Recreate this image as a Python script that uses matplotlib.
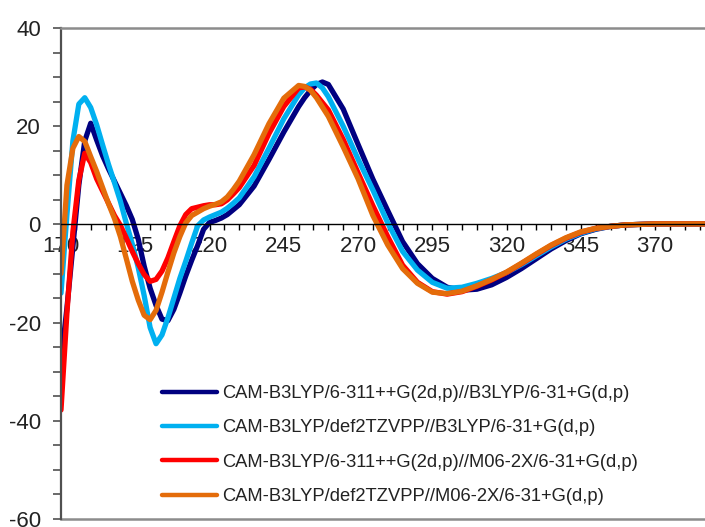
import matplotlib
matplotlib.use("Agg")
import matplotlib.pyplot as plt
from matplotlib.ticker import FixedLocator, MultipleLocator

plt.rcParams["font.family"] = ["Liberation Sans", "DejaVu Sans"]
plt.rcParams["axes.unicode_minus"] = False

wavelength = [170, 172, 174, 176, 178, 180, 182, 184, 186, 188, 190, 192, 194, 196, 198,
              200, 202, 204, 206, 208, 210, 212, 214, 216, 218, 220, 222, 224, 226, 228,
              230, 235, 240, 245, 250, 252, 254, 256, 258, 260, 265, 270, 275, 280, 285,
              290, 295, 300, 305, 310, 315, 320, 325, 330, 335, 340, 345, 350, 355, 360,
              370, 380, 387]

b3lyp_311 = [-28, -17, -4.5, 8, 17, 20.6, 17.2, 14, 11.3, 8.8, 6.3, 3.8, 1.0, -3, -8.5,
             -13, -16.5, -19.3, -19.6, -17.3, -14, -10.5, -7.3, -4.3, -1, 0.4, 0.8, 1.3, 2, 3,
             4, 7.8, 13.2, 18.8, 24, 25.8, 27.3, 28.5, 29, 28.5, 23.5, 16.3, 9.2, 2.8, -3.5,
             -8, -11, -12.8, -13.4, -13.2, -12.3, -10.8, -9, -7, -5, -3.3, -1.9, -1, -0.4, -0.1,
             0.1, 0.1, 0.1]

b3lyp_def2 = [-14, 2, 17, 24.5, 25.8, 23.8, 20.3, 16.2, 12.2, 8.5, 4.7, 0.2, -4, -8.8, -14.5,
              -21, -24.3, -22.5, -19, -15, -11, -7.5, -3.8, -0.3, 0.9, 1.5, 2, 2.5, 3.3, 4.3,
              5.4, 9.7, 15.5, 21.5, 26.4, 27.8, 28.6, 28.8, 27.8, 26, 20, 13.3, 7, 0.3, -5.5,
              -9.3, -11.8, -13, -12.8, -12, -11, -9.8, -8.2, -6.4, -4.6, -3, -1.8, -0.9, -0.4, -0.1,
              0.1, 0.1, 0.1]

m062x_311 = [-37.8, -18, -1.5, 9, 14.5, 12.6, 9.3, 6.8, 4.3, 1.8, -0.2, -2.8, -5.5, -8, -10.2,
             -11.6, -11.2, -9.5, -6.8, -3.5, -0.3, 2, 3.2, 3.5, 3.8, 4, 4, 4.2, 5, 6.2,
             7.5, 12, 18.5, 24, 27.8, 28, 27.5, 26.3, 24.8, 23.3, 17.3, 10.5, 3.8, -2.5, -8.3,
             -11.8, -13.7, -14.2, -13.7, -12.6, -11.3, -9.8, -8, -6.1, -4.3, -2.8, -1.6, -0.8, -0.4, -0.1,
             0.1, 0.1, 0.1]

m062x_def2 = [-10, 8, 15.5, 17.9, 16.9, 13.8, 10.8, 7.5, 4.2, 1.2, -2.5, -7, -11.6, -15.4, -18.5,
              -19.4, -17.5, -13.8, -9.7, -5.8, -2.5, 0.3, 1.8, 2.5, 3.2, 3.7, 4.1, 4.6, 5.6, 7.1,
              8.8, 14.2, 20.5, 25.7, 28.3, 28.1, 27.3, 25.8, 23.9, 22, 15.8, 9.3, 1.8, -4.2, -9,
              -12, -13.8, -14.1, -13.6, -12.5, -11.2, -9.7, -7.9, -6, -4.2, -2.7, -1.5, -0.8, -0.4, -0.1,
              0.1, 0.1, 0.1]

labels = ["CAM-B3LYP/6-311++G(2d,p)//B3LYP/6-31+G(d,p)",
          "CAM-B3LYP/def2TZVPP//B3LYP/6-31+G(d,p)",
          "CAM-B3LYP/6-311++G(2d,p)//M06-2X/6-31+G(d,p)",
          "CAM-B3LYP/def2TZVPP//M06-2X/6-31+G(d,p)"]
colors = ["#000080", "#00B0F0", "#FF0000", "#E46C0A"]

fig = plt.figure(figsize=(7.05, 5.27), dpi=100)
ax = fig.add_axes([61 / 705, 8 / 527, 644 / 705, 491 / 527])

series = [b3lyp_311, b3lyp_def2, m062x_311, m062x_def2]
lines = []
for ys, c, lab in zip(series, colors, labels):
    ln, = ax.plot(wavelength, ys, color=c, lw=3.8, label=lab,
                  solid_joinstyle="round", solid_capstyle="round")
    lines.append(ln)

ax.set_xlim(170, 386.8)
ax.set_ylim(-60, 40)

# x axis sits on y = 0
ax.spines["bottom"].set_position(("data", 0))
ax.spines["bottom"].set_color("black")
ax.spines["bottom"].set_linewidth(1.0)
ax.spines["right"].set_visible(False)
ax.spines["top"].set_color("#8c8c8c")
ax.spines["top"].set_linewidth(1.8)
ax.spines["left"].set_color("#505050")
ax.spines["left"].set_linewidth(1.6)
ax.axhline(-60, color="#8c8c8c", lw=1.8, clip_on=False, zorder=0)

ax.xaxis.set_major_locator(FixedLocator(list(range(170, 371, 25))))
ax.xaxis.set_minor_locator(MultipleLocator(5))
ax.yaxis.set_major_locator(MultipleLocator(20))
ax.yaxis.set_minor_locator(MultipleLocator(5))
ax.tick_params(axis="x", which="both", direction="out", length=4.5, width=1.0,
               color="black", labelsize=16, pad=4, labelcolor="#222222")
ax.tick_params(axis="y", which="both", direction="out", length=5.5, width=1.2,
               color="#505050", labelsize=16, pad=9, labelcolor="#222222")

leg = ax.legend(handles=lines, loc="upper left", bbox_to_anchor=(162 / 705, 1 - 385 / 527),
                bbox_transform=fig.transFigure, frameon=False, borderpad=0,
                fontsize=13.2, handlelength=3.0, handletextpad=0.3, labelspacing=0.95,
                borderaxespad=0)
for h in leg.get_lines():
    h.set_linewidth(3.2)
for t in leg.get_texts():
    t.set_color("#222222")

fig.savefig("out.png", dpi=100)
